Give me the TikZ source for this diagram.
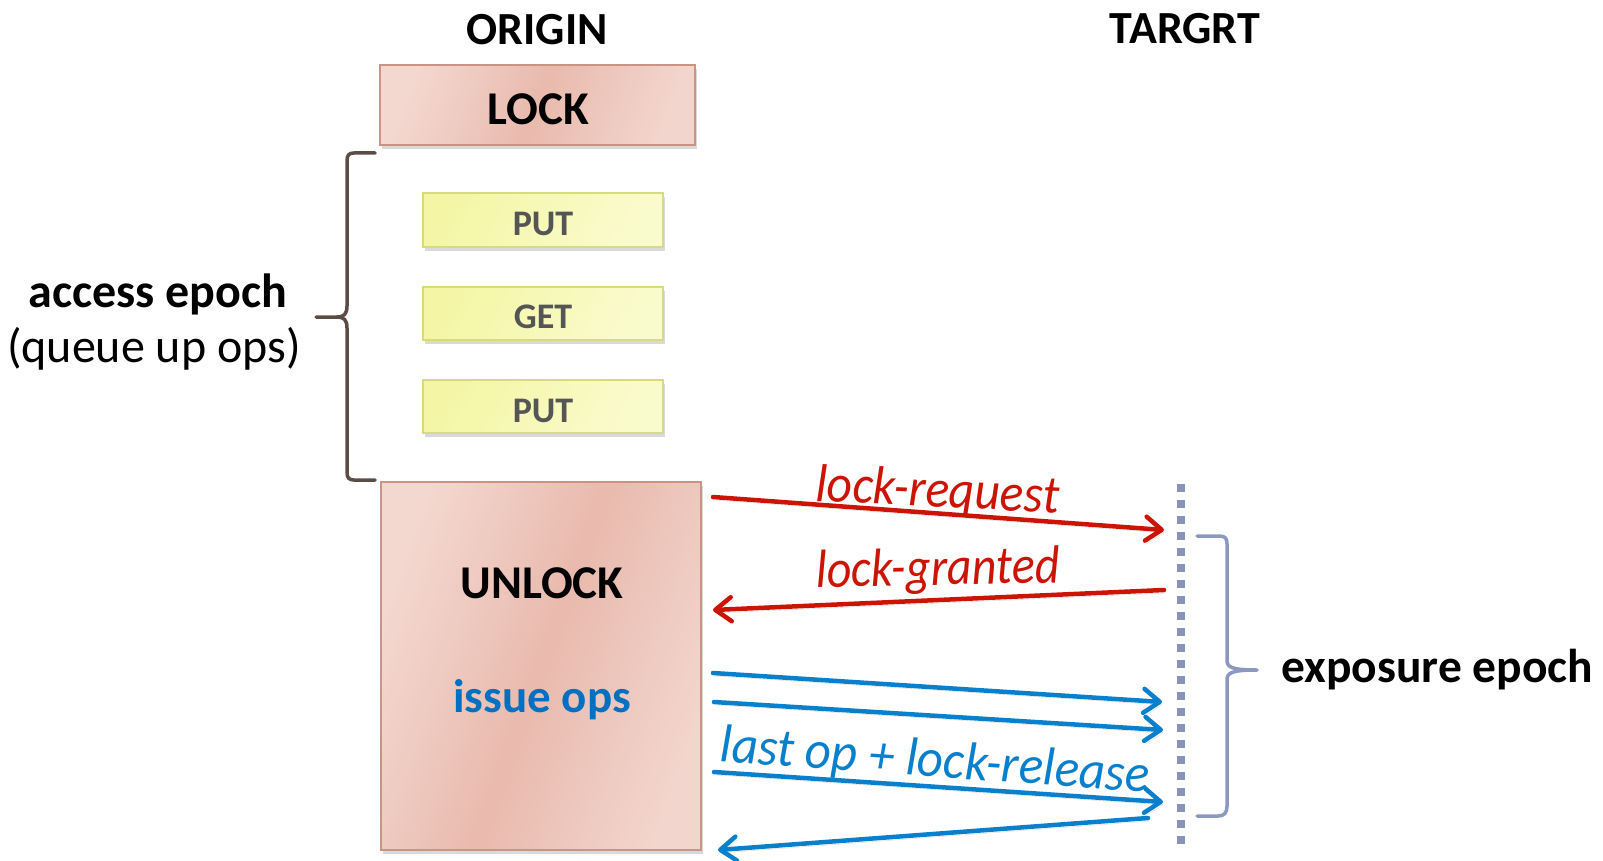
\documentclass[tikz,border=0pt]{standalone}
\usepackage{fontspec}
\setmainfont{Carlito}
\usetikzlibrary{arrows.meta,shadows}

\definecolor{pinkL}{RGB}{243,216,208}
\definecolor{pinkM}{RGB}{233,186,173}
\definecolor{pinkR}{RGB}{242,213,205}
\definecolor{pinkedge}{RGB}{200,148,132}
\definecolor{opL}{RGB}{244,246,165}
\definecolor{opR}{RGB}{250,251,205}
\definecolor{opedge}{RGB}{214,219,128}
\definecolor{optext}{RGB}{85,85,85}
\definecolor{reqred}{RGB}{204,20,5}
\definecolor{opblue}{RGB}{10,128,204}
\definecolor{issueblue}{RGB}{0,112,192}
\definecolor{lifeline}{RGB}{136,148,184}
\definecolor{accbrace}{RGB}{92,76,70}
\definecolor{expbrace}{RGB}{140,152,192}

\newcommand\szHead{\fontsize{46}{50}\selectfont}
\newcommand\szBox{\fontsize{47}{52}\selectfont}
\newcommand\szOp{\fontsize{36}{40}\selectfont}
\newcommand\szLab{\fontsize{48}{52}\selectfont}
\newcommand\szExp{\fontsize{47.5}{52}\selectfont}
\newcommand\szMsg{\fontsize{48}{52}\selectfont}

\tikzset{
  boxshadow/.style={drop shadow={opacity=0.3, shadow xshift=2pt, shadow yshift=-4pt}},
  pinkbox/.style={draw=pinkedge, line width=1.6pt, left color=pinkL, right color=pinkR,
    middle color=pinkM, shading angle=70, boxshadow, inner sep=0pt},
  opbox/.style={draw=opedge, line width=1.6pt, left color=opL, right color=opR,
    shading angle=60, boxshadow, inner sep=0pt, minimum width=240pt},
  lbl/.style={inner sep=0pt, anchor=base},
  boxtxt/.style={lbl, font=\szBox\bfseries},
  optxt/.style={lbl, font=\szOp\bfseries, text=optext},
  msgtxt/.style={lbl, font=\szMsg\itshape, text=#1, yscale=1.12},
  msg/.style={line width=4.5pt, line cap=round,
    -{Straight Barb[length=16pt, width=24pt, round]},
    preaction={draw=black, opacity=0.15, transform canvas={xshift=2pt, yshift=-3pt}}},
  reqmsg/.style={msg, draw=reqred},
  opmsg/.style={msg, draw=opblue},
  brace/.style={line width=3.5pt, line cap=round, line join=round}
}

\begin{document}
\begin{tikzpicture}[x=1pt, y=-1pt]
\useasboundingbox (0,0) rectangle (1603,861);

% column headings
\node[lbl, font=\szHead\bfseries] (origin) at (537,45) {ORIGIN};
\node[lbl, font=\szHead\bfseries] (target) at (1185,44) {TARGRT};

% origin side: lock, queued operations, unlock
\node[pinkbox, minimum width=315pt, minimum height=80pt] (lock) at (537.5,105) {};
\node[boxtxt] (lockTxt) at (538,125) {LOCK};

\node[opbox, minimum height=54pt] (put1) at (543,220) {};
\node[optxt] (put1Txt) at (543,235) {PUT};
\node[opbox, minimum height=53pt] (get) at (543,313.5) {};
\node[optxt] (getTxt) at (543,328) {GET};
\node[opbox, minimum height=53pt] (put2) at (543,406.5) {};
\node[optxt] (put2Txt) at (543,422) {PUT};

\node[pinkbox, minimum width=320pt, minimum height=368pt] (unlock) at (541,666) {};
\node[boxtxt] (unlockTxt) at (542,598) {UNLOCK};
\node[boxtxt, text=issueblue] (issueTxt) at (542,712) {issue ops};

% access epoch brace and label
\draw[brace, draw=accbrace] (375,153) -- (354,153) .. controls (349,153) and (347,155) .. (347,161)
  -- (347,306) .. controls (347,314) and (344,317) .. (337,317) -- (316,317)
  -- (337,317) .. controls (344,317) and (347,320) .. (347,328)
  -- (347,472) .. controls (347,478) and (349,480) .. (354,480) -- (375,480);
\node[lbl, font=\szLab\bfseries] (accTxt) at (158,307) {access epoch};
\node[lbl, font=\szLab] (queueTxt) at (154,362) {(queue up ops)};

% target lifeline
\coordinate (lifeTop) at (1181,484);
\coordinate (lifeBot) at (1181,848);
\draw[draw=lifeline, line width=8pt, dash pattern=on 8pt off 8pt] (lifeTop) -- (lifeBot);

% exposure epoch brace and label
\draw[brace, draw=expbrace] (1197,536) -- (1219,536) .. controls (1225,536) and (1227,538) .. (1227,544)
  -- (1227,660) .. controls (1227,667) and (1231,670) .. (1257,670)
  .. controls (1231,670) and (1227,673) .. (1227,680)
  -- (1227,806) .. controls (1227,813) and (1224,816) .. (1218,816) -- (1197,816);
\node[lbl, anchor=base west, font=\szExp\bfseries] (expTxt) at (1281,682) {exposure epoch};

% message end points
\coordinate (reqA) at (713,497);   \coordinate (reqB) at (1164,530);
\coordinate (grantA) at (1164,590); \coordinate (grantB) at (713,610);
\coordinate (op1A) at (713,673);   \coordinate (op1B) at (1162,702);
\coordinate (op2A) at (714,702);   \coordinate (op2B) at (1163,730);
\coordinate (op3A) at (714,772);   \coordinate (op3B) at (1163,802);
\coordinate (ackA) at (1148,818);  \coordinate (ackB) at (718,850);

% messages
\draw[reqmsg] (reqA) -- (reqB);
\draw[reqmsg] (grantA) -- (grantB);
\draw[opmsg] (op1A) -- (op1B);
\draw[opmsg] (op2A) -- (op2B);
\draw[opmsg] (op3A) -- (op3B);
\draw[opmsg] (ackA) -- (ackB);

\node[msgtxt=reqred, rotate=-2.5, xscale=1.03] (reqTxt) at (937,507) {lock-request};
\node[msgtxt=reqred, rotate=1] (grantTxt) at (938,585) {lock-granted};
\node[msgtxt=opblue, rotate=-3.6, xscale=1.06] (relTxt) at (934,777) {last op + lock-release};
\end{tikzpicture}
\end{document}
